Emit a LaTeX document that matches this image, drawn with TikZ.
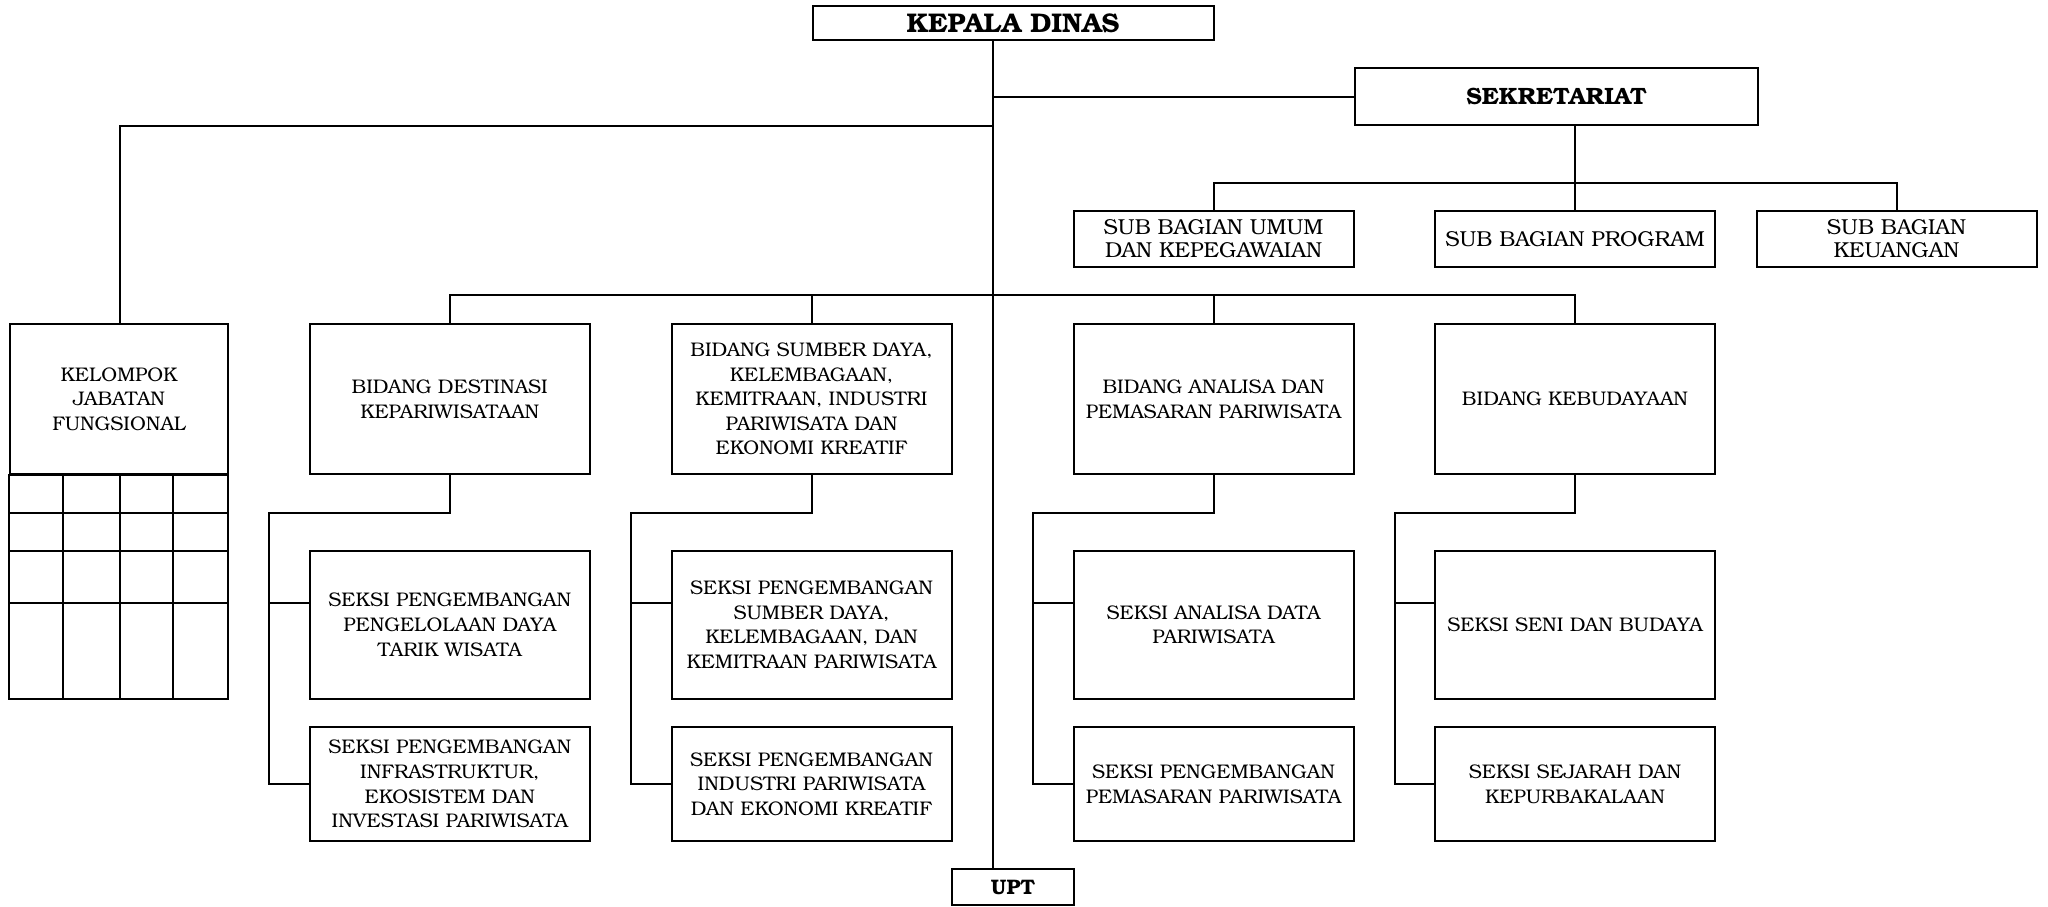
\documentclass[tikz,border=0pt]{standalone}
\usepackage{fontspec}
\setmainfont{TeX Gyre Bonum}
\tikzset{
  box/.style={draw, line width=1pt, inner sep=0pt, align=center, font=\fontsize{9.85}{12.3}\selectfont},
  bidbox/.style={box, minimum width=140pt, minimum height=75pt},
  s1box/.style={box, minimum width=140pt, minimum height=73.75pt},
  s2box/.style={box, minimum width=140pt, minimum height=57pt},
  subbox/.style={box, minimum width=140pt, minimum height=28.25pt, font=\fontsize{10.8}{11.2}\selectfont},
  ln/.style={line width=1pt}
}
\begin{document}
\begin{tikzpicture}[x=0.5pt,y=-0.5pt]
\useasboundingbox (0,0) rectangle (2048,906);
% top
\node[box, minimum width=200.5pt, minimum height=17pt, font=\fontsize{13.5}{15}\selectfont\bfseries] (kd) at (1013,23) {KEPALA DINAS};
\node[box, minimum width=201.5pt, minimum height=28.5pt, font=\fontsize{11.8}{13}\selectfont\bfseries] (sek) at (1556.5,96.5) {SEKRETARIAT};
\node[subbox] (umum) at (1213.5,238.75) {SUB BAGIAN UMUM\\DAN KEPEGAWAIAN};
\node[subbox] (prog) at (1575,238.75) {SUB BAGIAN PROGRAM};
\node[subbox] (keu) at (1896.5,238.75) {SUB BAGIAN\\KEUANGAN};
\node[box, minimum width=61pt, minimum height=18pt, font=\fontsize{10.5}{12}\selectfont\bfseries] (upt) at (1013,887) {UPT};
% kelompok jabatan fungsional
\node[box, minimum width=109pt, minimum height=75pt] (kjf) at (119,399) {KELOMPOK\\JABATAN\\FUNGSIONAL};
\draw[ln] (kjf.south west) rectangle (228,698.5);
\foreach \yy in {512.5,550.5,603} \draw[ln] (10,\yy) -- (228,\yy);
\foreach \xx in {62.5,120,172.7} \draw[ln] (\xx,474) -- (\xx,698.5);
% bidang
\node[bidbox] (b1) at (449.8,399) {BIDANG DESTINASI\\KEPARIWISATAAN};
\node[bidbox] (b2) at (811.5,399) {BIDANG SUMBER DAYA,\\KELEMBAGAAN,\\KEMITRAAN, INDUSTRI\\PARIWISATA DAN\\EKONOMI KREATIF};
\node[bidbox] (b3) at (1213.5,399) {BIDANG ANALISA DAN\\PEMASARAN PARIWISATA};
\node[bidbox] (b4) at (1575,399) {BIDANG KEBUDAYAAN};
% seksi
\node[s1box] (s11) at (449.8,624.75) {SEKSI PENGEMBANGAN\\PENGELOLAAN DAYA\\TARIK WISATA};
\node[s2box] (s12) at (449.8,784) {SEKSI PENGEMBANGAN\\INFRASTRUKTUR,\\EKOSISTEM DAN\\INVESTASI PARIWISATA};
\node[s1box] (s21) at (811.5,624.75) {SEKSI PENGEMBANGAN\\SUMBER DAYA,\\KELEMBAGAAN, DAN\\KEMITRAAN PARIWISATA};
\node[s2box] (s22) at (811.5,784) {SEKSI PENGEMBANGAN\\INDUSTRI PARIWISATA\\DAN EKONOMI KREATIF};
\node[s1box] (s31) at (1213.5,624.75) {SEKSI ANALISA DATA\\PARIWISATA};
\node[s2box] (s32) at (1213.5,784) {SEKSI PENGEMBANGAN\\PEMASARAN PARIWISATA};
\node[s1box] (s41) at (1575,624.75) {SEKSI SENI DAN BUDAYA};
\node[s2box] (s42) at (1575,784) {SEKSI SEJARAH DAN\\KEPURBAKALAAN};
% coordinates
\coordinate (sp) at (992.6,0);
\coordinate (jl) at (120,125.5);
\coordinate (sb) at (0,183);
\coordinate (bb) at (0,295);
\coordinate (c1) at (0,603);
\coordinate (L1) at (269,513);
\coordinate (L2) at (631,513);
\coordinate (L3) at (1033,513);
\coordinate (L4) at (1395,513);
% connectors
\draw[ln] (kd.south -| sp) -- (upt.north -| sp);
\draw[ln] (sp |- sek.west) -- (sek.west);
\draw[ln] (sp |- jl) -- (jl) -- (jl |- kjf.north);
\draw[ln] (sek.south -| prog.north) -- (prog.north);
\draw[ln] (umum.north) -- (umum.north |- sb) -- (keu.north |- sb) -- (keu.north);
\draw[ln] (b1.north) -- (b1.north |- bb) -- (b4.north |- bb) -- (b4.north);
\draw[ln] (b2.north |- bb) -- (b2.north);
\draw[ln] (b3.north |- bb) -- (b3.north);
\foreach \i in {1,2,3,4}{
  \draw[ln] (b\i.south) -- (b\i.south |- L\i) -- (L\i) |- (s\i2.west);
  \draw[ln] (L\i |- c1) -- (s\i1.west |- c1);
}
\end{tikzpicture}
\end{document}
